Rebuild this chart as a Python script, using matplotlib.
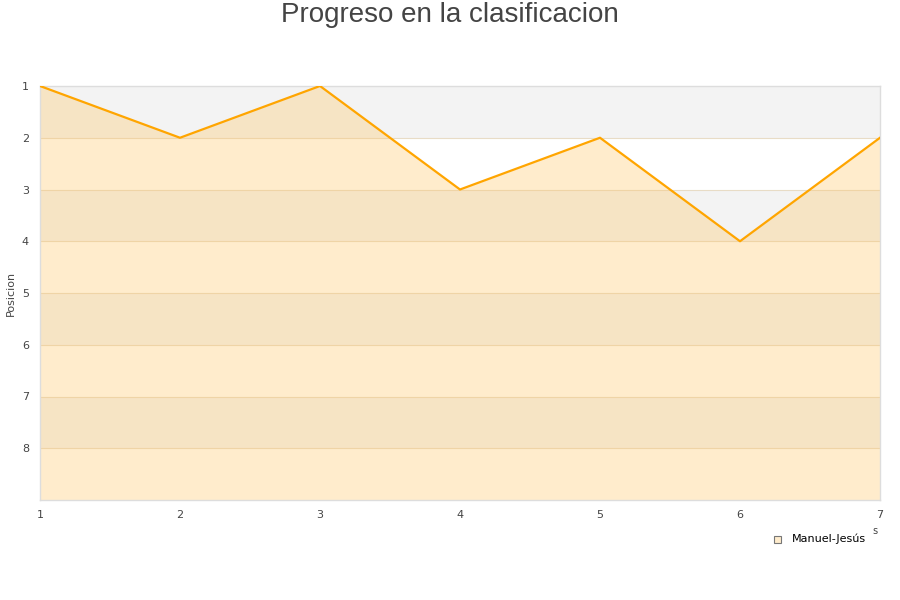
import matplotlib.pyplot as plt

# Datos
jornadas = [1, 2, 3, 4, 5, 6, 7]
posiciones = [1, 2, 1, 3, 2, 4, 2]
jugador = 'Manuel-Jesús'
y_ticks = [1, 2, 3, 4, 5, 6, 7, 8]

fig = plt.figure(figsize=(9, 6), dpi=100)
ax = fig.add_axes([40 / 900, 100 / 600, 840 / 900, 414 / 600])

ax.set_xlim(1, 7)
ax.set_ylim(9, 1)

# Bandas alternas de fondo
for i in range(1, 9):
    if i % 2 == 1:
        ax.axhspan(i, i + 1, color='#f3f3f3', lw=0, zorder=0)

# Lineas horizontales
for t in y_ticks[1:]:
    ax.axhline(t, color='#e8dcc6', lw=0.8, zorder=1)

ax.fill_between(jornadas, posiciones, 9, color=(1.0, 198 / 255, 102 / 255),
                alpha=0.33, lw=0, zorder=2)
ax.plot(jornadas, posiciones, color='#ffa500', lw=1.6, zorder=3)

ax.set_yticks(y_ticks)
ax.set_xticks(jornadas)
ax.tick_params(length=0, labelsize=8, colors='#444444')
ax.tick_params(axis='y', pad=8)
ax.tick_params(axis='x', pad=7)
for s in ax.spines.values():
    s.set_color('#dddddd')
    s.set_linewidth(1)

fig.text(11 / 900, 1 - 293 / 600, 'Posicion', fontsize=8, color='#444444',
         rotation=90, ha='center', va='center')

fig.text(0.5, 1 - 15 / 600, 'Progreso en la clasificacion', ha='center',
         va='center', fontsize=20, color='#444444', family='Liberation Sans')

fig.text(875 / 900, 1 - 531 / 600, 's', fontsize=7, color='#444444',
         ha='center', va='center')

# Leyenda
fig.patches.append(plt.Rectangle((774 / 900, 1 - 543 / 600), 7 / 900, 7 / 600,
                                 transform=fig.transFigure, facecolor='#ffeccc',
                                 edgecolor='#777777', lw=0.8, zorder=5))
fig.text(792 / 900, 1 - 539 / 600, jugador, fontsize=8, color='#000000',
         ha='left', va='center')

fig.savefig('out.png')
